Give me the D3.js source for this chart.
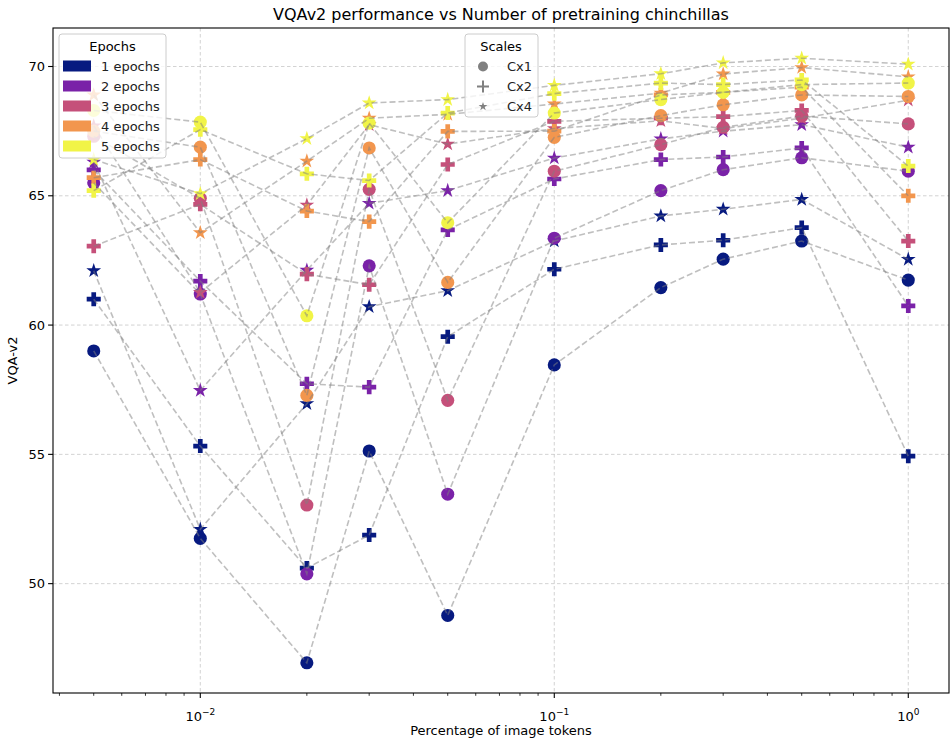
<!DOCTYPE html>
<html><head><meta charset="utf-8">
<script src="https://cdn.jsdelivr.net/npm/d3@7"></script>
<style>body{margin:0;background:#fff} svg{display:block;font-family:"DejaVu Sans",sans-serif}</style>
</head><body><svg id="chart" width="951" height="738"></svg>
<script>
// ---- data ----
const xValues = [0.005, 0.01, 0.02, 0.03, 0.05, 0.1, 0.2, 0.3, 0.5, 1.0];
const epochLabels = ["1 epochs", "2 epochs", "3 epochs", "4 epochs", "5 epochs"];
const scaleLabels = ["Cx1", "Cx2", "Cx4"];
const epochColors = ["#071a80", "#7a22a8", "#c5507a", "#f2964e", "#f1f447"];
const yTicks = [50, 55, 60, 65, 70];
const xMajorTicks = [0.01, 0.1, 1];

const ep1Cx1 = [59.0, 51.75, 46.94, 55.13, 48.77, 58.46, 61.45, 62.55, 63.25, 61.74];
const ep1Cx2 = [61.0, 55.32, 50.6, 51.88, 59.55, 62.16, 63.1, 63.28, 63.77, 54.93];
const ep1Cx4 = [62.1, 52.1, 56.96, 60.71, 61.33, 63.25, 64.22, 64.48, 64.86, 62.54];
const ep2Cx1 = [65.5, 61.2, 50.38, 62.29, 53.46, 63.36, 65.2, 66.01, 66.47, 65.95];
const ep2Cx2 = [66.0, 61.7, 57.73, 57.6, 63.68, 65.65, 66.4, 66.5, 66.85, 60.74];
const ep2Cx4 = [66.3, 57.47, 62.12, 64.71, 65.2, 66.46, 67.2, 67.5, 67.75, 66.88];
const ep3Cx1 = [67.3, 64.9, 53.04, 65.25, 57.09, 65.95, 66.98, 67.65, 68.08, 67.78];
const ep3Cx2 = [63.05, 64.67, 61.97, 61.56, 66.21, 67.88, 68.0, 68.06, 68.3, 63.25];
const ep3Cx4 = [67.7, 61.26, 64.64, 67.75, 67.0, 67.6, 67.9, 67.6, 68.0, 68.7];
const ep4Cx1 = [67.5, 66.88, 57.28, 66.85, 61.65, 67.26, 68.1, 68.52, 68.9, 68.84];
const ep4Cx2 = [65.7, 66.4, 64.41, 64.0, 67.49, 67.5, 68.9, 69.0, 69.2, 65.0];
const ep4Cx4 = [68.9, 63.57, 66.34, 68.0, 68.15, 68.55, 68.97, 69.71, 69.96, 69.6];
const ep5Cx1 = [68.3, 67.85, 60.36, 67.81, 63.96, 68.2, 68.72, 69.0, 69.3, 69.36];
const ep5Cx2 = [65.2, 67.56, 65.85, 65.59, 68.2, 68.95, 69.36, 69.3, 69.48, 66.15];
const ep5Cx4 = [66.4, 65.08, 67.21, 68.59, 68.72, 69.27, 69.72, 70.14, 70.32, 70.09];

const seriesTable = [
  [ep1Cx1, ep1Cx2, ep1Cx4],
  [ep2Cx1, ep2Cx2, ep2Cx4],
  [ep3Cx1, ep3Cx2, ep3Cx4],
  [ep4Cx1, ep4Cx2, ep4Cx4],
  [ep5Cx1, ep5Cx2, ep5Cx4]
];

// ---- layout ----
const svg = d3.select("#chart");
const L = 53, R = 949, T = 28, B = 693;

const allY = seriesTable.flat(2);
const yMin = d3.min(allY), yMax = d3.max(allY), yPad = (yMax - yMin) * 0.05;
const lx0 = Math.log10(d3.min(xValues)), lx1 = Math.log10(d3.max(xValues)), lxPad = (lx1 - lx0) * 0.05;

const x = d3.scaleLog().domain([Math.pow(10, lx0 - lxPad), Math.pow(10, lx1 + lxPad)]).range([L, R]);
const y = d3.scaleLinear().domain([yMin - yPad, yMax + yPad]).range([B, T]);

// grid
const grid = svg.append("g");
xMajorTicks.forEach(v => {
  grid.append("line").attr("x1", x(v)).attr("x2", x(v)).attr("y1", T).attr("y2", B)
    .attr("stroke", "#b0b0b0").attr("stroke-opacity", 0.7).attr("stroke-width", 0.8).attr("stroke-dasharray", "3.5,2.5");
});
yTicks.forEach(v => {
  grid.append("line").attr("x1", L).attr("x2", R).attr("y1", y(v)).attr("y2", y(v))
    .attr("stroke", "#b0b0b0").attr("stroke-opacity", 0.7).attr("stroke-width", 0.8).attr("stroke-dasharray", "3.5,2.5");
});

// markers
const symTypes = [d3.symbolCircle, d3.symbolCross, d3.symbolStar];
const symSizes = [135, 110, 68];
const markers = svg.append("g");
seriesTable.forEach((row, ei) => {
  row.forEach((vals, si) => {
    markers.selectAll(null).data(vals.map((v, i) => [xValues[i], v])).enter()
      .append("path")
      .attr("d", d3.symbol().type(symTypes[si]).size(symSizes[si]))
      .attr("transform", d => `translate(${x(d[0])},${y(d[1])})`)
      .attr("fill", epochColors[ei]);
  });
});

// dashed connecting lines
const line = d3.line().x(d => x(d[0])).y(d => y(d[1]));
const lines = svg.append("g");
seriesTable.forEach(row => {
  row.forEach(vals => {
    lines.append("path").attr("d", line(vals.map((v, i) => [xValues[i], v])))
      .attr("fill", "none").attr("stroke", "#808080").attr("stroke-opacity", 0.5)
      .attr("stroke-width", 1.6).attr("stroke-dasharray", "6,3");
  });
});

// axes frame
svg.append("rect").attr("x", L).attr("y", T).attr("width", R - L).attr("height", B - T)
  .attr("fill", "none").attr("stroke", "#000").attr("stroke-width", 1.1);

// x ticks
const xAxisG = svg.append("g");
const minor = [];
for (let k = -3; k <= 0; k++) for (let m = 2; m <= 9; m++) {
  const v = m * Math.pow(10, k);
  if (v >= x.domain()[0] && v <= x.domain()[1]) minor.push(v);
}
minor.forEach(v => xAxisG.append("line").attr("x1", x(v)).attr("x2", x(v)).attr("y1", B).attr("y2", B + 2.8).attr("stroke", "#000").attr("stroke-width", 0.8));
const expLabels = ["\u22122", "\u22121", "0"];
xMajorTicks.forEach((v, i) => {
  xAxisG.append("line").attr("x1", x(v)).attr("x2", x(v)).attr("y1", B).attr("y2", B + 4.9).attr("stroke", "#000").attr("stroke-width", 1.1);
  const t = xAxisG.append("text").attr("x", x(v)).attr("y", B + 28).attr("text-anchor", "middle")
    .attr("font-size", 13).attr("fill", "#000");
  t.append("tspan").text("10");
  t.append("tspan").attr("dy", -6).attr("font-size", 9).text(expLabels[i]);
});

// y ticks
yTicks.forEach(v => {
  svg.append("line").attr("x1", L - 4.9).attr("x2", L).attr("y1", y(v)).attr("y2", y(v)).attr("stroke", "#000").attr("stroke-width", 1.1);
  svg.append("text").attr("x", L - 8).attr("y", y(v) + 4.5).attr("text-anchor", "end")
    .attr("font-size", 13).attr("fill", "#000").text(v);
});

// labels
svg.append("text").attr("x", (L + R) / 2).attr("y", 20).attr("text-anchor", "middle")
  .attr("font-size", 16).attr("fill", "#000").text("VQAv2 performance vs Number of pretraining chinchillas");
svg.append("text").attr("x", (L + R) / 2).attr("y", 735).attr("text-anchor", "middle")
  .attr("font-size", 13).attr("fill", "#000").text("Percentage of image tokens");
svg.append("text").attr("transform", `translate(17,${(T + B) / 2}) rotate(-90)`).attr("text-anchor", "middle")
  .attr("font-size", 13).attr("fill", "#000").text("VQA-v2");

// legend: Epochs
const lg1 = svg.append("g");
lg1.append("rect").attr("x", 59).attr("y", 34).attr("width", 107).attr("height", 124).attr("rx", 3)
  .attr("fill", "#fff").attr("fill-opacity", 0.8).attr("stroke", "#cccccc").attr("stroke-width", 1);
lg1.append("text").attr("x", 112.5).attr("y", 51).attr("text-anchor", "middle").attr("font-size", 13).text("Epochs");
epochLabels.forEach((lab, i) => {
  const cy = 66 + i * 20;
  lg1.append("rect").attr("x", 63).attr("y", cy - 5.5).attr("width", 28).attr("height", 11).attr("fill", epochColors[i]);
  lg1.append("text").attr("x", 101).attr("y", cy + 4.5).attr("font-size", 13).attr("fill", "#222").text(lab);
});

// legend: Scales
const lg2 = svg.append("g");
lg2.append("rect").attr("x", 465).attr("y", 34).attr("width", 73).attr("height", 83).attr("rx", 3)
  .attr("fill", "#fff").attr("fill-opacity", 0.8).attr("stroke", "#cccccc").attr("stroke-width", 1);
lg2.append("text").attr("x", 501).attr("y", 51).attr("text-anchor", "middle").attr("font-size", 13).text("Scales");
scaleLabels.forEach((lab, i) => {
  const cy = 66.5 + i * 20;
  if (i === 0) {
    lg2.append("circle").attr("cx", 483).attr("cy", cy).attr("r", 5).attr("fill", "#808080");
  } else if (i === 1) {
    lg2.append("path").attr("d", `M${477},${cy}H${489}M483,${cy - 6}V${cy + 6}`).attr("stroke", "#808080").attr("stroke-width", 2);
  } else {
    lg2.append("path").attr("d", d3.symbol().type(d3.symbolStar).size(24)).attr("transform", `translate(483,${cy})`).attr("fill", "#808080");
  }
  lg2.append("text").attr("x", 507).attr("y", cy + 4.5).attr("font-size", 13).attr("fill", "#222").text(lab);
});
</script></body></html>
